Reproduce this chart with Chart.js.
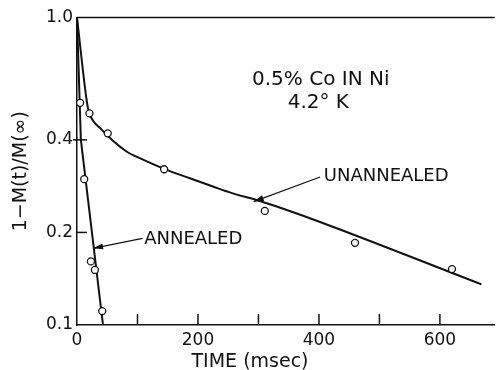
<!DOCTYPE html>
<html lang="en">
  <head>
    <meta charset="UTF-8" />
    <title>Magnetization decay, 0.5% Co in Ni</title>
    <script src="https://cdn.jsdelivr.net/npm/chart.js"></script>
    <style>
      body {
        margin: 0;
        padding: 0;
        background: #fff;
      }

      canvas {
        display: block;
      }
    </style>
  </head>
  <body>
    <canvas id="decayChart" width="500" height="370"></canvas>

    <script>
      // measured points (open circles)
      const annealedTime = [5.1, 11.9, 23.0, 29.6, 41.7];
      const annealedValue = [0.528, 0.298, 0.161, 0.151, 0.111];
      const unannealedTime = [20.6, 50.8, 144, 310.5, 459.6, 620];
      const unannealedValue = [0.488, 0.42, 0.321, 0.235, 0.185, 0.152];

      // hand-drawn curves through them
      const annealedFitTime = [0, 6.4, 43];
      const annealedFitValue = [1.0, 0.4, 0.1];
      const unannealedFitTime = [0, 15.5, 19.5, 27.8, 38.8, 60.8, 82.6, 104.6, 144, 186.6, 224.7, 257.5, 296.8, 362.3, 668.7];
      const unannealedFitValue = [1.0, 0.546, 0.494, 0.458, 0.436, 0.395, 0.366, 0.348, 0.322, 0.3, 0.282, 0.268, 0.255, 0.231, 0.1356];

      // axes
      const xTicks = [0, 100, 200, 300, 400, 500, 600];
      const xLabelled = [0, 200, 400, 600];
      const yTicks = [0.1, 0.2, 0.4, 1.0];
      const yInnerTicks = [0.2, 0.4];

      const ink = "#111";
      const face = "'DejaVu Sans', sans-serif";

      const pairs = (xs, ys) => xs.map((x, i) => ({ x: x, y: ys[i] }));

      function arrow(ctx, x1, y1, x2, y2) {
        ctx.beginPath();
        ctx.moveTo(x1, y1);
        ctx.lineTo(x2, y2);
        ctx.stroke();
        const a = Math.atan2(y2 - y1, x2 - x1);
        const len = 10;
        const half = 3;
        ctx.beginPath();
        ctx.moveTo(x2, y2);
        ctx.lineTo(x2 - len * Math.cos(a) + half * Math.sin(a), y2 - len * Math.sin(a) - half * Math.cos(a));
        ctx.lineTo(x2 - len * Math.cos(a) - half * Math.sin(a), y2 - len * Math.sin(a) + half * Math.cos(a));
        ctx.closePath();
        ctx.fill();
      }

      // frame top, inward tick marks, notes and arrows
      const paperMarks = {
        id: "paperMarks",
        afterDraw(chart) {
          const { ctx, chartArea: area } = chart;
          const x = chart.scales.x;
          const y = chart.scales.y;
          ctx.save();
          ctx.strokeStyle = ink;
          ctx.fillStyle = ink;
          ctx.lineWidth = 1.5;

          ctx.beginPath();
          ctx.moveTo(area.left, area.top);
          ctx.lineTo(area.right, area.top);
          ctx.stroke();

          xTicks.slice(1).forEach((v) => {
            const px = x.getPixelForValue(v);
            ctx.beginPath();
            ctx.moveTo(px, area.bottom);
            ctx.lineTo(px, area.bottom - 11);
            ctx.stroke();
          });

          yInnerTicks.forEach((v) => {
            const py = y.getPixelForValue(v);
            ctx.beginPath();
            ctx.moveTo(v === 0.4 ? area.left - 4 : area.left, py);
            ctx.lineTo(area.left + 10, py);
            ctx.stroke();
          });

          ctx.textBaseline = "middle";
          ctx.font = "20px " + face;
          ctx.textAlign = "center";
          ctx.fillText("0.5% Co IN Ni", x.getPixelForValue(403), y.getPixelForValue(0.626));
          ctx.fillText("4.2° K", x.getPixelForValue(399), y.getPixelForValue(0.529));

          ctx.font = "18px " + face;
          ctx.textAlign = "left";
          ctx.fillText("UNANNEALED", x.getPixelForValue(408), y.getPixelForValue(0.305));
          ctx.fillText("ANNEALED", x.getPixelForValue(111), y.getPixelForValue(0.1905));

          ctx.lineWidth = 1.2;
          arrow(ctx, x.getPixelForValue(402), y.getPixelForValue(0.303),
                x.getPixelForValue(292.2), y.getPixelForValue(0.252));
          arrow(ctx, x.getPixelForValue(108.2), y.getPixelForValue(0.1913),
                x.getPixelForValue(26.6), y.getPixelForValue(0.1776));
          ctx.restore();
        },
      };

      const circles = {
        showLine: false,
        pointRadius: 3.5,
        pointBorderWidth: 1.3,
        pointBackgroundColor: "#fff",
        pointBorderColor: ink,
      };

      const curve = {
        showLine: true,
        pointRadius: 0,
        borderColor: ink,
        borderWidth: 2,
      };

      new Chart(document.getElementById("decayChart"), {
        type: "scatter",
        data: {
          datasets: [
            Object.assign({ label: "Unannealed (measured)", data: pairs(unannealedTime, unannealedValue) }, circles),
            Object.assign({ label: "Annealed (measured)", data: pairs(annealedTime, annealedValue) }, circles),
            Object.assign({ label: "Unannealed", data: pairs(unannealedFitTime, unannealedFitValue), cubicInterpolationMode: "monotone" }, curve),
            Object.assign({ label: "Annealed", data: pairs(annealedFitTime, annealedFitValue), tension: 0 }, curve),
          ],
        },
        options: {
          responsive: false,
          animation: false,
          layout: { padding: { top: 17.5, left: 0, right: 0, bottom: 0 } },
          plugins: {
            legend: { display: false },
            tooltip: { enabled: false },
            title: {
              display: true,
              position: "bottom",
              text: "TIME (msec)",
              color: ink,
              font: { family: face, size: 19, weight: "normal", lineHeight: 0.8 },
              padding: { top: 0, bottom: 0 },
            },
          },
          scales: {
            x: {
              type: "linear",
              min: 0,
              max: 690.6,
              afterBuildTicks: (s) => { s.ticks = xTicks.map((v) => ({ value: v })); },
              afterFit: (s) => { s.height = 29.8; },
              ticks: {
                callback: (v) => (xLabelled.includes(v) ? String(v) : ""),
                color: ink,
                font: { family: face, size: 17 },
                padding: 5,
                maxRotation: 0,
                autoSkip: false,
              },
              grid: { display: false, drawTicks: false },
              border: { display: true, color: ink, width: 1.5 },
            },
            y: {
              type: "logarithmic",
              min: 0.1,
              max: 1.0,
              afterBuildTicks: (s) => { s.ticks = yTicks.map((v) => ({ value: v })); },
              afterFit: (s) => { s.width = 77; },
              ticks: {
                callback: (v) => v.toFixed(1),
                color: ink,
                font: { family: face, size: 17 },
                padding: 4,
              },
              title: {
                display: true,
                text: "1−M(t)/M(∞)",
                color: ink,
                font: { family: face, size: 19 },
                padding: { top: 10, bottom: 0 },
              },
              grid: { display: false, drawTicks: false },
              border: { display: true, color: ink, width: 1.5 },
            },
          },
        },
        plugins: [paperMarks],
      });
    </script>
  </body>
</html>
